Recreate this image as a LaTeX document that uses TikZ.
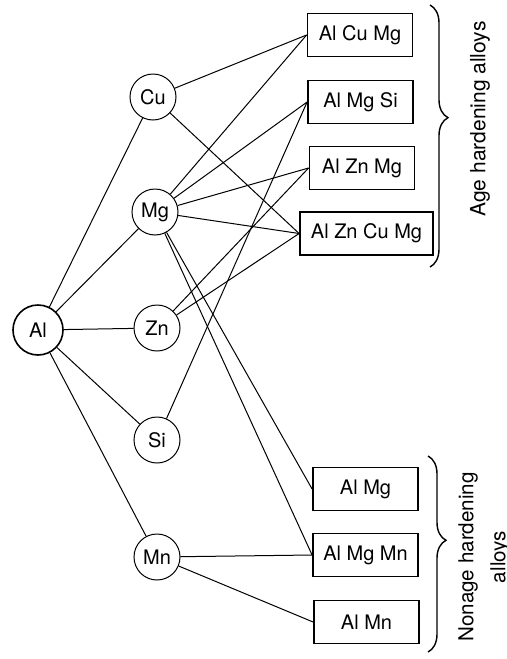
\documentclass[tikz,border=0pt]{standalone}
\usepackage{fontspec}
\setmainfont{TeX Gyre Heros}
\usepackage{tikz}
\usetikzlibrary{decorations.pathreplacing}

\begin{document}
\begin{tikzpicture}[x=0.5pt,y=-0.5pt,font=\fontsize{10}{12}\selectfont,
  element/.style={draw,circle,line width=0.5pt,minimum size=23pt,inner sep=0pt},
  alloy/.style={draw,line width=0.9pt,minimum width=52.5pt,minimum height=21.5pt,inner sep=0pt}]
\useasboundingbox (0,0) rectangle (507,659);

\node[element,minimum size=25pt,line width=0.8pt] (al) at (38,330) {Al};
\node[element] (cu) at (153,97) {Cu};
\node[element] (mg) at (155,212) {Mg};
\node[element] (zn) at (157,328) {Zn};
\node[element] (si) at (157,440) {Si};
\node[element] (mn) at (157,557) {Mn};

\node[alloy] (alcumg) at (360,35) {Al Cu Mg};
\node[alloy] (almgsi) at (360.5,102) {Al Mg Si};
\node[alloy] (alznmg) at (362,168) {Al Zn Mg};
\node[alloy,minimum width=66.5pt] (alzncumg) at (366.5,233.5) {Al Zn Cu Mg};
\node[alloy] (almg) at (365.5,489) {Al Mg};
\node[alloy] (almgmn) at (365.5,555) {Al Mg Mn};
\node[alloy] (almn) at (366.5,622) {Al Mn};

\foreach \b in {cu,mg,zn,si,mn}
    \draw[line width=0.5pt] (al) -- (\b);
\foreach \a/\b in {cu/alcumg, cu/alzncumg, mg/alcumg, mg/almgsi, mg/alznmg, mg/alzncumg, mg/almg, mg/almgmn,
                   zn/alznmg, zn/alzncumg, si/almgsi, mn/almgmn, mn/almn}
    \draw[line width=0.5pt] (\a) -- (\b.west);

\draw[line width=0.7pt,decorate,decoration={brace,amplitude=9pt,aspect=0.43}] (430,5) -- (430,267);
\draw[line width=0.7pt,decorate,decoration={brace,amplitude=9pt,aspect=0.43}] (428,456) -- (428,652);

\node[rotate=90,font=\fontsize{10.5}{12}\selectfont] (age) at (480,119) {Age hardening alloys};
\node[rotate=90,align=center,font=\fontsize{10.3}{16}\selectfont] (nonage) at (484,557) {Nonage hardening\\alloys};
\end{tikzpicture}
\end{document}
